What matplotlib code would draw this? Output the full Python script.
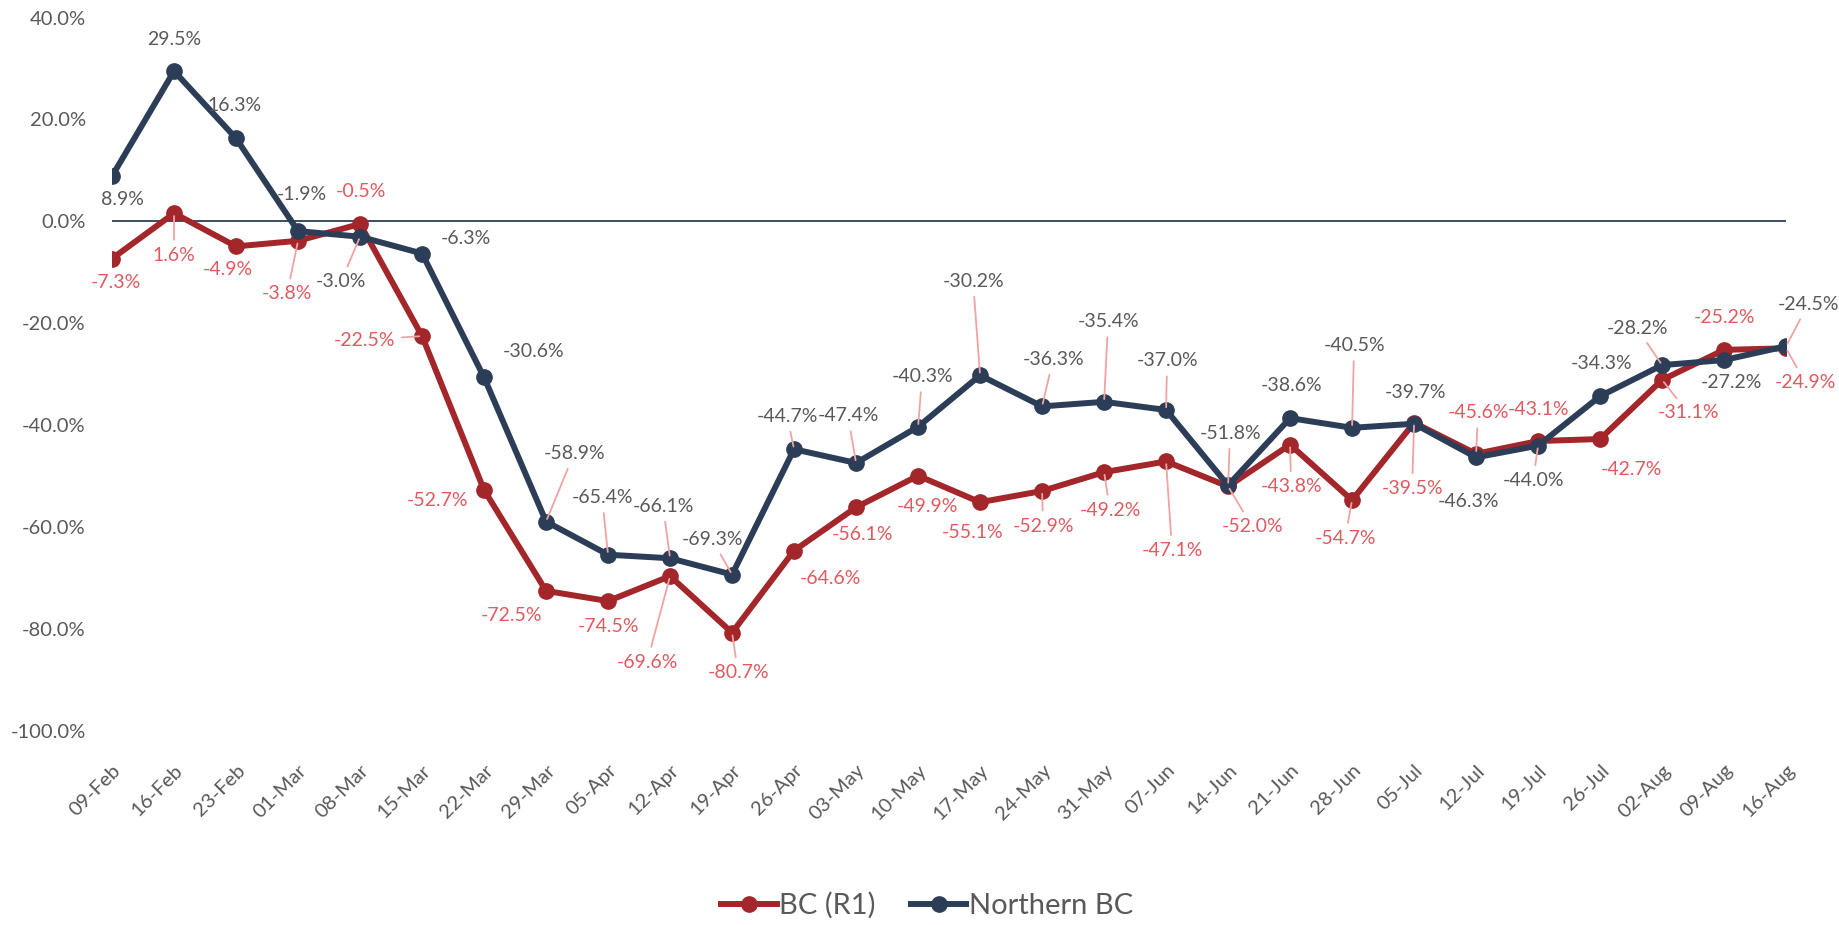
import matplotlib
matplotlib.use("Agg")
import matplotlib.pyplot as plt
from matplotlib.ticker import FuncFormatter

# --- data -----------------------------------------------------------------
weeks = ["09-Feb", "16-Feb", "23-Feb", "01-Mar", "08-Mar", "15-Mar", "22-Mar",
         "29-Mar", "05-Apr", "12-Apr", "19-Apr", "26-Apr", "03-May", "10-May",
         "17-May", "24-May", "31-May", "07-Jun", "14-Jun", "21-Jun", "28-Jun",
         "05-Jul", "12-Jul", "19-Jul", "26-Jul", "02-Aug", "09-Aug", "16-Aug"]

bc_r1 = [-7.3, 1.6, -4.9, -3.8, -0.5, -22.5, -52.7, -72.5, -74.5, -69.6,
         -80.7, -64.6, -56.1, -49.9, -55.1, -52.9, -49.2, -47.1, -52.0, -43.8,
         -54.7, -39.5, -45.6, -43.1, -42.7, -31.1, -25.2, -24.9]

northern_bc = [8.9, 29.5, 16.3, -1.9, -3.0, -6.3, -30.6, -58.9, -65.4, -66.1,
               -69.3, -44.7, -47.4, -40.3, -30.2, -36.3, -35.4, -37.0, -51.8,
               -38.6, -40.5, -39.7, -46.3, -44.0, -34.3, -28.2, -27.2, -24.5]

y_ticks = [40, 20, 0, -20, -40, -60, -80, -100]

# --- label placement (pixel offsets from the point, leader line yes/no) ----
bc_offsets = [(4, -24, 0), (0, -42, 1), (-8, -23, 0), (-11, -53, 1), (1, 32, 0),
              (-58, -4, 1), (-47, -11, 0), (-35, -25, 0), (0, -25, 0), (-23, -86, 1),
              (6, -40, 1), (36, -28, 0), (6, -27, 0), (9, -31, 0), (-8, -30, 0),
              (1, -35, 1), (6, -38, 1), (6, -89, 1), (24, -40, 1), (1, -42, 1),
              (-7, -38, 1), (-2, -66, 1), (2, 41, 1), (0, 32, 0), (31, -30, 0),
              (26, -33, 1), (0, 32, 0), (19, -34, 1)]

nbc_offsets = [(10, -23, 0), (0, 32, 0), (-2, 33, 0), (4, 37, 0), (-19, -45, 1),
               (44, 15, 0), (49, 26, 0), (28, 68, 1), (-6, 57, 1), (-7, 52, 1),
               (-20, 35, 1), (-7, 33, 1), (-8, 47, 1), (4, 50, 1), (-7, 94, 1),
               (11, 47, 1), (4, 80, 1), (1, 49, 1), (2, 52, 1), (1, 33, 0),
               (2, 82, 1), (1, 31, 0), (-8, -44, 0), (-5, -35, 1), (1, 33, 0),
               (-25, 37, 1), (7, -22, 0), (22, 42, 1)]

RED = "#A3262A"
NAVY = "#2C3E57"
RED_TXT = "#E05A5F"
GREY_TXT = "#595959"
LEADER = "#F0A3A3"

plt.rcParams["font.family"] = ["Lato", "DejaVu Sans"]

fig = plt.figure(figsize=(18.4, 9.25), dpi=100)
ax = fig.add_axes([0.0609, 0.2097, 0.9098, 0.7713])

x = list(range(len(weeks)))

ax.axhline(0, color=NAVY, lw=1.3, zorder=1)
ax.plot(x, bc_r1, color=RED, lw=4.3, marker="o", ms=11, label="BC (R1)",
        solid_joinstyle="round", zorder=3)
ax.plot(x, northern_bc, color=NAVY, lw=4.3, marker="o", ms=11,
        label="Northern BC", solid_joinstyle="round", zorder=4)


def add_labels(values, offsets, color):
    for i, v in enumerate(values):
        dx, dy, leader = offsets[i]
        props = None
        if leader:
            props = dict(arrowstyle="-", color=LEADER, lw=1.3,
                         shrinkA=3, shrinkB=2)
        ax.annotate(f"{v:.1f}%", xy=(i, v), xytext=(dx, dy),
                    textcoords="offset pixels", ha="center", va="center",
                    fontsize=14, color=color, arrowprops=props, zorder=5)


add_labels(bc_r1, bc_offsets, RED_TXT)
add_labels(northern_bc, nbc_offsets, GREY_TXT)

ax.set_xlim(0, len(weeks) - 1)
ax.set_ylim(-100, 40)
ax.set_yticks(y_ticks)
ax.yaxis.set_major_formatter(FuncFormatter(lambda v, _: f"{v:.1f}%"))
ax.set_xticks(x)
ax.set_xticklabels(weeks, rotation=45, ha="right", rotation_mode="anchor")
ax.tick_params(axis="both", length=0, labelsize=14.5, labelcolor=GREY_TXT)
ax.tick_params(axis="y", pad=19)
ax.tick_params(axis="x", pad=22)
for s in ax.spines.values():
    s.set_visible(False)

leg = fig.legend(loc="lower center", bbox_to_anchor=(0.504, -0.022), ncol=2,
                 frameon=False, fontsize=21, handlelength=1.9,
                 handletextpad=0.1, columnspacing=1.2)
for t in leg.get_texts():
    t.set_color(GREY_TXT)

fig.savefig("out.png", dpi=100, facecolor="white")
